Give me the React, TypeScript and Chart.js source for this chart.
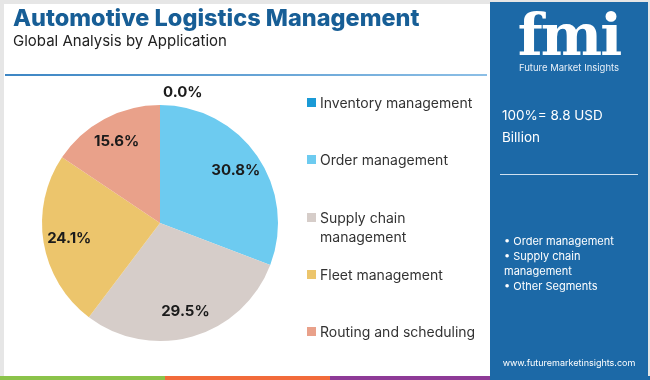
import React, { useEffect, useRef } from "react";
import { Chart, registerables } from "chart.js";

Chart.register(...registerables);

const categories = [
  "Inventory management",
  "Order management",
  "Supply chain management",
  "Fleet management",
  "Routing and scheduling",
];
const legendLines = [
  ["Inventory management"],
  ["Order management"],
  ["Supply chain", "management"],
  ["Fleet management"],
  ["Routing and scheduling"],
];
const shares = [0.0, 30.8, 29.5, 24.1, 15.6];
const colors = ["#1a9ad6", "#6dcbf0", "#d6cdc9", "#ecc56c", "#e9a18a"];
const sideBullets = ["Order management", "Supply chain\nmanagement", "Other Segments"];
const marketSize = "100%= 8.8 USD Billion";

const FONT = "Inter, 'Open Sans', sans-serif";

const labelPlugin = {
  id: "pieLabels",
  afterDatasetsDraw(chart: any) {
    const ctx = chart.ctx;
    const meta = chart.getDatasetMeta(0);
    const data = chart.data.datasets[0].data as number[];
    ctx.save();
    ctx.font = `700 15px ${FONT}`;
    ctx.fillStyle = "#1b1b1b";
    ctx.textBaseline = "middle";
    meta.data.forEach((arc: any, i: number) => {
      const { x, y, startAngle, endAngle, outerRadius } = arc.getProps(
        ["x", "y", "startAngle", "endAngle", "outerRadius"],
        true
      );
      const text = data[i].toFixed(1) + "%";
      const mid = (startAngle + endAngle) / 2;
      if (data[i] === 0) {
        ctx.textAlign = "left";
        ctx.fillText(text, x + 3, y - outerRadius - 13);
      } else {
        const d = outerRadius * 0.78;
        ctx.textAlign = "center";
        ctx.fillText(text, x + Math.cos(mid) * d, y + Math.sin(mid) * d);
      }
    });
    ctx.restore();
  },
};

export default function App() {
  const ref = useRef<HTMLCanvasElement | null>(null);
  useEffect(() => {
    document.body.style.margin = "0";
    const chart = new Chart(ref.current as HTMLCanvasElement, {
      type: "pie",
      data: {
        labels: categories,
        datasets: [
          {
            data: shares,
            backgroundColor: colors,
            borderWidth: 0,
          },
        ],
      },
      options: {
        animation: false,
        responsive: false,
        maintainAspectRatio: false,
        layout: { padding: { left: 42, right: 372, top: 105, bottom: 39 } },
        plugins: {
          legend: { display: false },
          tooltip: { enabled: false },
        },
      },
      plugins: [labelPlugin],
    });
    return () => chart.destroy();
  }, []);

  const [msA, msB] = [marketSize.split(" Billion")[0], "Billion"];

  return (
    <div
      style={{
        position: "absolute",
        left: 0,
        top: 0,
        width: 650,
        height: 380,
        background: "#e6e6e6",
        overflow: "hidden",
        fontFamily: FONT,
      }}
    >
      <div
        style={{
          position: "absolute",
          left: 4,
          top: 4,
          width: 486,
          height: 372,
          background: "#ffffff",
        }}
      />
      <canvas
        ref={ref}
        width={650}
        height={380}
        style={{ position: "absolute", left: 0, top: 0, width: 650, height: 380 }}
      />
      <div
        style={{
          position: "absolute",
          left: 13,
          top: 3,
          fontSize: 23.5,
          fontWeight: 800,
          color: "#175e96",
          whiteSpace: "nowrap",
        }}
      >
        Automotive Logistics Management
      </div>
      <div
        style={{
          position: "absolute",
          left: 13,
          top: 31,
          fontSize: 15,
          color: "#222",
          whiteSpace: "nowrap",
        }}
      >
        Global Analysis by Application
      </div>
      <div
        style={{
          position: "absolute",
          left: 5,
          top: 74,
          width: 482,
          height: 2,
          background: "linear-gradient(to right, #3d86c4, #8cbfe6)",
        }}
      />
      {legendLines.map((lines, i) => (
        <div
          key={i}
          style={{
            position: "absolute",
            left: 307,
            top: [93, 150, 208, 265, 322][i],
            whiteSpace: "nowrap",
            fontSize: 14,
            lineHeight: "19px",
            color: "#333",
          }}
        >
          <span
            style={{
              position: "absolute",
              left: 0,
              top: 5,
              width: 9,
              height: 9,
              background: colors[i],
            }}
          />
          {lines.map((l, j) => (
            <div key={j} style={{ marginLeft: 13 }}>
              {l}
            </div>
          ))}
        </div>
      ))}
      <div
        style={{
          position: "absolute",
          left: 490,
          top: 2,
          width: 158,
          height: 374,
          background: "#1c69a7",
          color: "#fff",
        }}
      >
        <div
          style={{
            position: "absolute",
            left: 0,
            width: 158,
            top: -2,
            textAlign: "center",
            fontFamily: "'DejaVu Serif', serif",
            fontWeight: 700,
            fontSize: 58,
            lineHeight: "70px",
            letterSpacing: -2,
          }}
        >
          fmi
        </div>
        <div
          style={{
            position: "absolute",
            left: 0,
            width: 158,
            top: 60,
            textAlign: "center",
            fontSize: 9.5,
            color: "#e8f0f8",
          }}
        >
          Future Market Insights
        </div>
        <div style={{ position: "absolute", left: 12, top: 102, fontSize: 13.5, lineHeight: "22px" }}>
          <div>{msA}</div>
          <div>{msB}</div>
        </div>
        <div
          style={{
            position: "absolute",
            left: 10,
            top: 172,
            width: 138,
            height: 1,
            background: "#cfe0ef",
          }}
        />
        <div
          style={{
            position: "absolute",
            left: 14,
            top: 232,
            fontSize: 11,
            lineHeight: "15px",
            whiteSpace: "pre",
          }}
        >
          {sideBullets.map((b, i) => {
            const parts = b.split("\n");
            return (
              <div key={i}>
                <div>{"• " + parts[0]}</div>
                {parts.slice(1).map((p, j) => (
                  <div key={j}>{p}</div>
                ))}
              </div>
            );
          })}
        </div>
        <div
          style={{
            position: "absolute",
            left: 0,
            width: 158,
            top: 355,
            textAlign: "center",
            fontSize: 9,
          }}
        >
          www.futuremarketinsights.com
        </div>
      </div>
      {["#8bc34a", "#f26b3a", "#8e3a97", "#1c69a7"].map((c, i) => (
        <div
          key={c}
          style={{
            position: "absolute",
            left: [0, 165, 330, 490][i],
            top: 376,
            width: [165, 165, 160, 160][i],
            height: 4,
            background: c,
          }}
        />
      ))}
    </div>
  );
}
